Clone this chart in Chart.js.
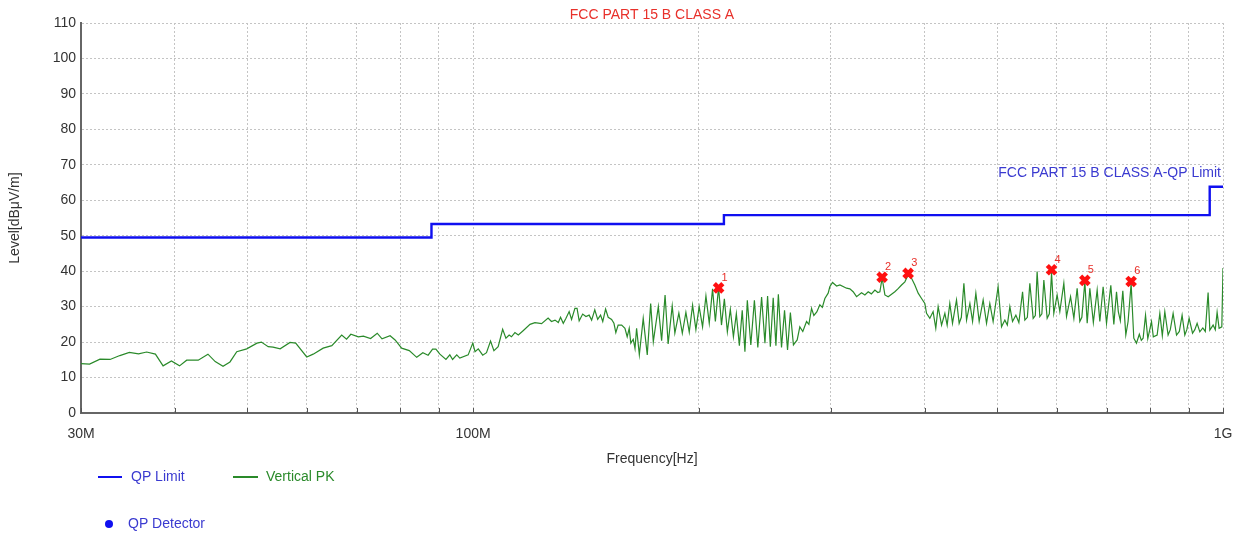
<!DOCTYPE html>
<html>
<head>
<meta charset="utf-8">
<script src="https://cdn.jsdelivr.net/npm/chart.js@4"></script>
<style>
  body { margin: 0; background: #fff; overflow: hidden; }
  canvas { display: block; }
</style>
</head>
<body>
<canvas id="myChart" width="1239" height="534"></canvas>
<script>
const titulo = "FCC PART 15 B CLASS A";
const limitLabel = "FCC PART 15 B CLASS A-QP Limit";

// QP limit (MHz, dBuV/m)
const limitFreq = [30, 88, 88, 216, 216, 960, 960, 1000];
const limitLevel = [49.5, 49.5, 53.3, 53.3, 55.8, 55.8, 63.8, 63.8];

// Vertical PK trace (MHz, dBuV/m)
const pkFreq = [
    30.0, 30.8, 31.8, 32.8, 33.8, 34.8, 35.8, 36.7, 37.7, 38.6,
    39.6, 40.6, 41.5, 43.0, 44.3, 45.3, 46.4, 47.4, 48.4, 49.9,
    51.5, 52.2, 53.3, 54.1, 55.3, 57.0, 58.0, 60.0, 61.2, 63.1,
    64.8, 66.8, 67.8, 68.7, 70.3, 71.4, 73.0, 74.5, 75.6, 77.5,
    78.7, 80.3, 82.2, 84.1, 85.7, 87.1, 88.3, 89.2, 90.3, 92.0,
    93.1, 93.9, 95.1, 96.0, 98.5, 99.9, 100.6, 101.6, 103.0, 104.2,
    105.5, 106.6, 108.0, 109.5, 110.6, 111.7, 112.5, 113.7, 114.9, 116.6,
    119.1, 120.9, 123.4, 125.9, 127.2, 128.6, 129.9, 130.8, 131.9, 133.0,
    134.3, 135.3, 136.7, 137.6, 138.5, 140.0, 141.4, 142.8, 143.9, 145.3,
    146.6, 147.9, 148.9, 150.2, 151.4, 153.0, 154.1, 155.0, 156.1, 157.8,
    159.4, 160.5, 161.5, 162.3, 163.5, 164.4, 165.2, 166.6, 168.6, 170.7,
    172.5, 173.9, 176.6, 178.4, 180.3, 182.0, 184.3, 185.8, 188.1, 190.1,
    192.2, 194.2, 196.2, 198.2, 200.2, 202.3, 204.4, 206.5, 208.6, 210.4,
    212.5, 214.4, 216.3, 218.3, 220.3, 222.4, 224.4, 226.5, 228.5, 230.4,
    232.1, 234.6, 237.2, 239.7, 242.5, 245.0, 247.0, 249.1, 251.3, 253.4,
    255.3, 257.8, 260.2, 262.6, 264.9, 267.4, 270.5, 272.7, 275.2, 278.4,
    280.4, 282.7, 284.7, 287.3, 290.0, 292.2, 294.5, 297.5, 299.0, 301.5,
    305.3, 308.4, 314.8, 318.0, 321.2, 324.6, 329.6, 333.0, 336.4, 339.7,
    343.4, 346.5, 348.7, 351.1, 354.1, 357.7, 361.4, 365.1, 368.5, 372.7,
    376.5, 380.3, 384.3, 388.2, 392.2, 396.3, 400.3, 402.4, 406.5, 410.6,
    414.0, 417.0, 421.4, 425.7, 428.7, 432.2, 435.8, 441.2, 444.8, 447.8,
    451.3, 455.0, 459.7, 463.5, 468.2, 473.0, 478.8, 483.8, 488.7, 493.7,
    501.3, 506.6, 511.8, 515.7, 519.7, 524.0, 529.4, 534.3, 540.4, 544.2,
    548.4, 552.6, 558.3, 562.0, 565.1, 569.8, 573.4, 576.9, 582.8, 586.7,
    590.7, 594.8, 600.9, 605.9, 613.4, 618.5, 626.2, 632.6, 639.0, 644.3,
    648.3, 654.3, 659.0, 664.4, 671.6, 679.5, 685.1, 692.1, 699.3, 708.6,
    715.2, 721.1, 725.1, 729.6, 735.2, 742.0, 747.2, 754.2, 760.4, 766.7,
    773.4, 778.2, 782.5, 788.3, 793.8, 802.9, 807.4, 816.9, 823.7, 830.0,
    836.4, 844.9, 850.6, 858.0, 867.0, 874.5, 882.0, 889.4, 894.9, 901.2,
    910.7, 917.1, 923.6, 931.3, 939.9, 947.1, 955.3, 960.4, 970.1, 976.6,
    982.1, 988.1, 996.4, 1000
];
const pkLevel = [
    13.9, 13.8, 15.2, 15.1, 16.2, 17.1, 16.7, 17.2, 16.6, 13.3,
    14.7, 13.3, 14.9, 14.9, 16.6, 14.5, 13.2, 14.4, 17.3, 18.1,
    19.7, 20.0, 18.7, 18.6, 18.1, 19.9, 19.7, 15.8, 16.6, 18.3,
    19.0, 22.0, 20.8, 22.2, 21.5, 21.7, 21.0, 22.5, 20.9, 21.8,
    20.6, 18.3, 17.6, 15.7, 17.0, 16.3, 18.0, 18.0, 16.6, 15.1,
    16.4, 15.1, 16.4, 15.5, 16.4, 19.7, 17.3, 18.1, 16.3, 17.0,
    20.3, 17.6, 18.7, 23.6, 21.1, 22.0, 21.5, 22.7, 22.0, 23.2,
    25.0, 25.5, 25.2, 26.8, 25.8, 26.2, 25.5, 27.0, 25.3, 26.7,
    28.6, 26.4, 29.5, 29.5, 26.0, 27.9, 27.2, 27.6, 26.2, 29.1,
    26.4, 27.6, 25.8, 29.3, 27.0, 26.4, 25.3, 22.7, 24.8, 24.8,
    23.9, 21.5, 23.9, 19.7, 20.8, 18.2, 23.9, 16.4, 26.7, 16.4,
    30.9, 20.1, 30.0, 20.4, 33.3, 19.5, 30.2, 22.5, 28.2, 22.5,
    28.4, 22.8, 30.4, 23.5, 30.0, 24.3, 33.0, 25.3, 35.0, 25.8,
    35.5, 24.8, 32.2, 22.9, 29.2, 21.5, 28.0, 19.0, 29.0, 17.3,
    31.8, 19.2, 31.8, 18.5, 32.7, 19.7, 33.0, 18.7, 32.5, 19.0,
    33.5, 18.5, 29.0, 17.8, 28.3, 19.2, 20.6, 24.3, 23.0, 25.8,
    25.0, 29.5, 27.5, 28.5, 30.5, 29.8, 32.3, 33.8, 35.6, 36.8,
    35.8, 36.1, 35.2, 35.0, 34.2, 32.8, 33.9, 33.3, 34.2, 33.6,
    34.7, 34.0, 34.2, 38.1, 33.3, 32.8, 33.5, 34.2, 35.0, 36.1,
    37.0, 38.9, 38.0, 36.1, 33.8, 32.3, 30.9, 28.1, 26.7, 28.6,
    23.9, 30.0, 24.8, 28.1, 24.8, 30.9, 25.3, 31.9, 25.3, 27.0,
    36.6, 26.2, 30.9, 25.8, 33.8, 25.8, 31.9, 25.3, 30.9, 25.8,
    35.6, 24.3, 26.2, 24.8, 30.0, 25.8, 27.6, 25.5, 34.2, 26.2,
    27.0, 36.6, 26.7, 27.5, 39.9, 27.2, 28.0, 37.5, 26.7, 28.0,
    39.5, 28.1, 33.3, 28.6, 36.6, 27.2, 32.8, 26.7, 35.2, 25.8,
    27.0, 37.0, 25.3, 35.2, 25.5, 34.7, 25.8, 35.6, 25.3, 36.0,
    25.0, 34.2, 28.6, 26.0, 34.5, 22.0, 25.8, 36.5, 21.1, 19.7,
    22.2, 20.5, 21.1, 27.6, 21.0, 25.8, 21.5, 22.0, 28.1, 21.8,
    28.6, 22.0, 23.5, 28.1, 22.0, 23.0, 27.6, 22.0, 23.5, 26.7,
    22.5, 23.5, 25.3, 22.9, 24.0, 23.0, 34.0, 23.4, 24.8, 23.5,
    28.4, 23.9, 24.3, 40.9
];

// QP detector markers
const qpFreq = [212.5, 351.1, 380.3, 590.7, 654.3, 754.2];
const qpLevel = [35.3, 38.3, 39.4, 40.4, 37.4, 37.1];
const qpNames = ["1", "2", "3", "4", "5", "6"];

// axes
const xTicks = [30, 40, 50, 60, 70, 80, 90, 100, 200, 300, 400, 500, 600, 700, 800, 900, 1000];
const xTickLabels = { 30: "30M", 100: "100M", 1000: "1G" };
const yMin = 0, yMax = 110, yStep = 10;

const fuente = "'Liberation Sans', Arial, sans-serif";
const rojo = "#e8302a";
const azul = "#1010f0";
const verde = "#2a8a2a";
const azulTexto = "#3a3ad0";

function puntos(xs, ys) {
    return xs.map((x, i) => ({ x: x, y: ys[i] }));
}

const textos = {
    id: "textos",
    afterDraw(chart) {
        const ctx = chart.ctx;
        const area = chart.chartArea;
        const sx = chart.scales.x;
        const sy = chart.scales.y;
        ctx.save();

        // small tick marks on the frequency axis
        ctx.strokeStyle = "#555";
        ctx.lineWidth = 1;
        xTicks.forEach(v => {
            const px = Math.round(sx.getPixelForValue(v)) + 0.5;
            ctx.beginPath();
            ctx.moveTo(px, area.bottom);
            ctx.lineTo(px, area.bottom - 5);
            ctx.stroke();
        });

        ctx.font = "14px " + fuente;
        ctx.textBaseline = "middle";

        // title
        ctx.fillStyle = rojo;
        ctx.textAlign = "center";
        ctx.fillText(titulo, (area.left + area.right) / 2, 15);

        // limit label
        ctx.fillStyle = azulTexto;
        ctx.textAlign = "right";
        ctx.fillText(limitLabel, area.right - 2, sy.getPixelForValue(limitLevel[limitLevel.length - 1]) - 14);

        // axis titles
        ctx.fillStyle = "#333";
        ctx.textAlign = "center";
        ctx.fillText("Frequency[Hz]", (area.left + area.right) / 2, 459);
        ctx.save();
        ctx.translate(15, (area.top + area.bottom) / 2);
        ctx.rotate(-Math.PI / 2);
        ctx.fillText("Level[dBμV/m]", 0, 0);
        ctx.restore();

        // marker numbers
        ctx.font = "11px " + fuente;
        ctx.fillStyle = rojo;
        ctx.textAlign = "left";
        qpFreq.forEach((f, i) => {
            ctx.fillText(qpNames[i], sx.getPixelForValue(f) + 3, sy.getPixelForValue(qpLevel[i]) - 10);
        });

        // legend
        ctx.font = "14px " + fuente;
        ctx.lineWidth = 2;
        ctx.strokeStyle = azul;
        ctx.beginPath(); ctx.moveTo(98, 477); ctx.lineTo(122, 477); ctx.stroke();
        ctx.fillStyle = azulTexto;
        ctx.fillText("QP Limit", 131, 477);
        ctx.strokeStyle = verde;
        ctx.beginPath(); ctx.moveTo(233, 477); ctx.lineTo(258, 477); ctx.stroke();
        ctx.fillStyle = verde;
        ctx.fillText("Vertical PK", 266, 477);
        ctx.fillStyle = azul;
        ctx.beginPath(); ctx.arc(109, 524, 4, 0, Math.PI * 2); ctx.fill();
        ctx.fillStyle = azulTexto;
        ctx.fillText("QP Detector", 128, 524);

        ctx.restore();
    }
};

const config = {
    type: "line",
    data: {
        datasets: [
            {
                label: "QP Detector",
                data: puntos(qpFreq, qpLevel),
                showLine: false,
                pointStyle: "crossRot",
                pointRadius: 6,
                pointBorderWidth: 4.5,
                pointBorderColor: "#ff1010",
                borderColor: "#ff1010",
                order: 0
            },
            {
                label: "QP Limit",
                data: puntos(limitFreq, limitLevel),
                borderColor: azul,
                borderWidth: 2.4,
                pointRadius: 0,
                order: 2
            },
            {
                label: "Vertical PK",
                data: puntos(pkFreq, pkLevel),
                borderColor: verde,
                borderWidth: 1.2,
                pointRadius: 0,
                order: 1
            }
        ]
    },
    options: {
        responsive: false,
        animation: false,
        layout: { padding: { left: 0, right: 16, top: 23, bottom: 0 } },
        plugins: {
            legend: { display: false },
            title: { display: false },
            tooltip: { enabled: false }
        },
        scales: {
            x: {
                type: "logarithmic",
                min: 30,
                max: 1000,
                afterBuildTicks: scale => {
                    scale.ticks = xTicks.map(v => ({ value: v }));
                },
                afterFit: scale => {
                    scale.height = 121;
                    scale.paddingLeft = 0;
                    scale.paddingRight = 0;
                },
                ticks: {
                    autoSkip: false,
                    maxRotation: 0,
                    padding: 13,
                    color: "#333",
                    font: { family: fuente, size: 14 },
                    callback: v => xTickLabels[v] || ""
                },
                grid: { color: "#c4c4c4", drawTicks: false },
                border: { color: "#666", width: 2, dash: [2, 2] }
            },
            y: {
                min: yMin,
                max: yMax,
                afterFit: scale => { scale.width = 81; },
                ticks: {
                    stepSize: yStep,
                    padding: 5,
                    color: "#333",
                    font: { family: fuente, size: 14 }
                },
                grid: { color: "#c4c4c4", drawTicks: false },
                border: { color: "#666", width: 2, dash: [2, 2] }
            }
        }
    },
    plugins: [textos]
};

const myChart = new Chart(document.getElementById("myChart"), config);
</script>
</body>
</html>
